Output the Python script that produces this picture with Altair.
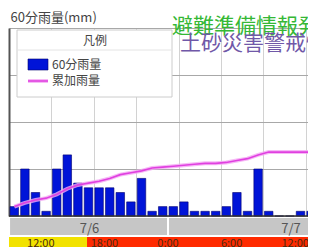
import altair as alt
import pandas as pd

# ---- data ----
hour_index = list(range(29))  # 7/6 9:00 ... 7/7 13:00 (hour starts)
rain_60min = [2, 10, 5, 1, 10, 13, 7, 6, 6, 6, 5, 3, 8, 1, 2,
              2, 3, 1, 1, 1, 2, 5, 1, 10, 1, 0, 0, 1, 1]
rain_cumulative = [10, 14, 17, 19, 23, 29, 33, 35, 37, 40, 44, 46, 48, 51, 52,
                   53, 54, 55, 56, 56, 57, 59, 61, 65, 68, 68, 68, 68, 68]
time_labels = ["12:00", "18:00", "0:00", "6:00", "12:00"]
time_label_pos = [3, 9, 15, 21, 27]
date_labels = ["7/6", "7/7"]
date_label_pos = [7.6, 26.6]
date_break = [15]
warn_start = [0, 7.36]
warn_end = [7.36, 30]
warn_color = ["#f2e200", "#ff2a00"]
legend_title = ["凡例"]
legend_labels = ["60分雨量", "累加雨量"]
notice_1 = ["避難準備情報発令"]
notice_2 = ["土砂災害警戒情報"]

FONT = "Noto Sans CJK JP"
PLOT_W = 299
XMAX = PLOT_W / 10.6

df = pd.DataFrame({
    "h": hour_index,
    "rain": rain_60min,
    "cum": rain_cumulative,
})
df["x0"] = df["h"] + 0.1
df["x1"] = df["h"] + 0.9
df["xc"] = df["h"] + 0.5

xscale = alt.Scale(domain=[0, XMAX], nice=False, zero=False)

bars = alt.Chart(df).mark_rect(color="#0014d8", stroke="#000070", strokeWidth=0.6).encode(
    x=alt.X("x0:Q", scale=xscale,
            axis=alt.Axis(values=list(range(0, 29)), grid=True, gridColor="#d2d2d2",
                          gridWidth=1, labels=False, ticks=False, domain=False, title=None)),
    x2="x1:Q",
    y=alt.Y("rain:Q", scale=alt.Scale(domain=[0, 40], nice=False),
            axis=alt.Axis(values=[0, 10, 20, 30, 40], grid=True, gridColor="#a8a8a8",
                          labels=False, ticks=False, domain=True, domainColor="#555555",
                          domainWidth=2, title="60分雨量(mm)", titleAngle=0,
                          titleAlign="left", titleBaseline="alphabetic", titleX=1,
                          titleY=-7, titleFontSize=13, titleFontWeight="normal",
                          titleColor="#444444", titleFont=FONT)),
    y2=alt.datum(0),
)

baseline = alt.Chart(pd.DataFrame({"v": [0]})).mark_rule(color="#333333", strokeWidth=1.5).encode(
    y=alt.Y("v:Q", scale=alt.Scale(domain=[0, 40], nice=False), axis=None),
)

cum_scale = alt.Scale(domain=[0, 200], nice=False)
line_halo = alt.Chart(df).mark_line(color="#f4a8f4", strokeWidth=4, opacity=0.8).encode(
    x=alt.X("xc:Q", scale=xscale), y=alt.Y("cum:Q", scale=cum_scale, axis=None))
line = alt.Chart(df).mark_line(color="#e040e0", strokeWidth=1.6).encode(
    x=alt.X("xc:Q", scale=xscale), y=alt.Y("cum:Q", scale=cum_scale, axis=None))

# bottom bands
gray_band = alt.Chart(pd.DataFrame({"a": [0.1], "b": [30]})).mark_rect(color="#c6c6c6").encode(
    x=alt.X("a:Q", scale=xscale), x2="b:Q", y=alt.value(190), y2=alt.value(207))
date_sep = alt.Chart(pd.DataFrame({"d": date_break})).mark_rule(color="white", strokeWidth=2).encode(
    x=alt.X("d:Q", scale=xscale), y=alt.value(190), y2=alt.value(207))
date_text = alt.Chart(pd.DataFrame({"p": date_label_pos, "t": date_labels})).mark_text(
    font=FONT, fontSize=13, color="#555555", baseline="alphabetic").encode(
    x=alt.X("p:Q", scale=xscale), y=alt.value(205), text="t:N")
warn_band = alt.Chart(pd.DataFrame({"a": warn_start, "b": warn_end, "c": warn_color})).mark_rect().encode(
    x=alt.X("a:Q", scale=xscale), x2="b:Q", y=alt.value(209), y2=alt.value(220),
    color=alt.Color("c:N", scale=None))
time_text = alt.Chart(pd.DataFrame({"p": time_label_pos, "t": time_labels})).mark_text(
    font=FONT, fontSize=11, color="#4a2a10", baseline="alphabetic").encode(
    x=alt.X("p:Q", scale=xscale), y=alt.value(218.5), text="t:N")

# legend box
one = pd.DataFrame({"z": [0]})
leg_box = alt.Chart(one).mark_rect(fill="white", stroke="#cccccc", strokeWidth=1).encode(
    x=alt.value(8), x2=alt.value(163), y=alt.value(2), y2=alt.value(69))
leg_sep = alt.Chart(one).mark_rule(color="#e4e4e4").encode(
    x=alt.value(8), x2=alt.value(163), y=alt.value(22))
leg_title = alt.Chart(pd.DataFrame({"t": legend_title})).mark_text(
    font=FONT, fontSize=12, color="#444444", baseline="middle").encode(
    x=alt.value(86), y=alt.value(13), text="t:N")
leg_sw1 = alt.Chart(one).mark_rect(color="#0014d8", stroke="#000070", strokeWidth=0.6).encode(
    x=alt.value(19), x2=alt.value(39), y=alt.value(31), y2=alt.value(42))
leg_sw2h = alt.Chart(one).mark_rule(color="#f4a8f4", strokeWidth=4, opacity=0.8).encode(
    x=alt.value(19), x2=alt.value(39), y=alt.value(53))
leg_sw2 = alt.Chart(one).mark_rule(color="#e040e0", strokeWidth=1.6).encode(
    x=alt.value(19), x2=alt.value(39), y=alt.value(53))
leg_t1 = alt.Chart(pd.DataFrame({"t": [legend_labels[0]]})).mark_text(
    font=FONT, fontSize=12, color="#444444", baseline="middle", align="left").encode(
    x=alt.value(43), y=alt.value(36.5), text="t:N")
leg_t2 = alt.Chart(pd.DataFrame({"t": [legend_labels[1]]})).mark_text(
    font=FONT, fontSize=12, color="#444444", baseline="middle", align="left").encode(
    x=alt.value(43), y=alt.value(53), text="t:N")

# notices
note1 = alt.Chart(pd.DataFrame({"t": notice_1})).mark_text(
    font=FONT, fontSize=21, color="#35b835", baseline="alphabetic", align="left").encode(
    x=alt.value(163), y=alt.value(5), text="t:N")
note2 = alt.Chart(pd.DataFrame({"t": notice_2})).mark_text(
    font=FONT, fontSize=21, color="#7058a8", baseline="alphabetic", align="left").encode(
    x=alt.value(171), y=alt.value(22), text="t:N")

chart = alt.layer(
    bars, baseline, line_halo, line,
    gray_band, date_sep, date_text, warn_band, time_text,
    leg_box, leg_sep, leg_title, leg_sw1, leg_sw2h, leg_sw2, leg_t1, leg_t2,
    note1, note2,
).resolve_scale(y="independent").properties(
    width=PLOT_W, height=188,
    autosize=alt.AutoSizeParams(type="none"),
    padding={"left": 1, "top": 20, "right": 0, "bottom": 31},
    background="white",
).configure_view(stroke=None)

chart.save("out.html", embed_options={"renderer": "svg", "actions": False})
